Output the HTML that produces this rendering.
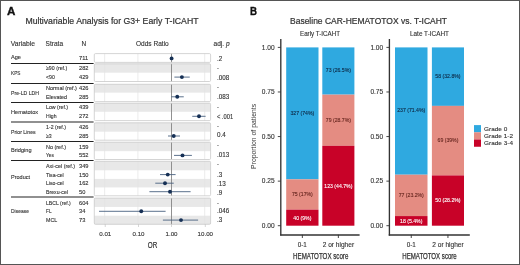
<!DOCTYPE html>
<html><head><meta charset="utf-8"><style>
html,body{margin:0;padding:0;background:#fff;}
svg{display:block;will-change:transform;}
text{font-family:"Liberation Sans", sans-serif;}
</style></head><body>
<svg width="520" height="265" viewBox="0 0 520 265">
<rect x="0" y="0" width="520" height="265" fill="#fff"/>
<text x="7.0" y="15.0" text-anchor="start" style="font-size:11.2px;fill:#111;font-weight:bold;" textLength="8.4" lengthAdjust="spacingAndGlyphs" stroke="#111" stroke-width="0.35">A</text>
<text x="25.4" y="24.3" text-anchor="start" style="font-size:8.5px;fill:#333;stroke:#333;stroke-width:0.2px;" textLength="173.1" lengthAdjust="spacingAndGlyphs" >Multivariable Analysis for G3+ Early T-ICAHT</text>
<text x="10.8" y="46" text-anchor="start" style="font-size:6.7px;fill:#333;stroke:#333;stroke-width:0.12px;" textLength="24.2" lengthAdjust="spacingAndGlyphs" >Variable</text>
<text x="45.6" y="46" text-anchor="start" style="font-size:6.7px;fill:#333;stroke:#333;stroke-width:0.12px;" textLength="17.5" lengthAdjust="spacingAndGlyphs" >Strata</text>
<text x="81.6" y="46" text-anchor="start" style="font-size:6.7px;fill:#333;stroke:#333;stroke-width:0.12px;" textLength="4.7" lengthAdjust="spacingAndGlyphs" >N</text>
<text x="136" y="46" text-anchor="start" style="font-size:6.7px;fill:#333;stroke:#333;stroke-width:0.12px;" textLength="32.75" lengthAdjust="spacingAndGlyphs" >Odds Ratio</text>
<text x="213.5" y="46" text-anchor="start" style="font-size:6.6px;fill:#333;stroke:#333;stroke-width:0.12px;" >adj.</text>
<text x="225.9" y="46" text-anchor="start" style="font-size:6.6px;fill:#333;stroke:#333;stroke-width:0.12px;font-style:italic;" >p</text>
<rect x="94.3" y="53.6" width="116.3" height="8.799999999999997" fill="#fff" />
<line x1="104.65" y1="53.6" x2="104.65" y2="62.4" stroke="#e3e3e3" stroke-width="0.7" />
<line x1="137.9" y1="53.6" x2="137.9" y2="62.4" stroke="#e3e3e3" stroke-width="0.7" />
<line x1="204.70000000000002" y1="53.6" x2="204.70000000000002" y2="62.4" stroke="#e3e3e3" stroke-width="0.7" />
<line x1="171.5" y1="53.6" x2="171.5" y2="62.4" stroke="#858585" stroke-width="0.9" />
<rect x="94.3" y="53.6" width="116.3" height="8.799999999999997" rx="1.2" fill="none" stroke="#c9c9c9" stroke-width="0.8"/>
<text x="11" y="59.3" text-anchor="start" style="font-size:5.7px;fill:#333;stroke:#333;stroke-width:0.12px;" textLength="10.0" lengthAdjust="spacingAndGlyphs" >Age</text>
<text x="79.0" y="60.3" text-anchor="start" style="font-size:5.7px;fill:#333;stroke:#333;stroke-width:0.12px;" >711</text>
<text x="216.9" y="61.05" text-anchor="start" style="font-size:6.3px;fill:#333;stroke:#333;stroke-width:0.12px;" >.2</text>
<circle cx="171.6" cy="58.4" r="1.95" fill="#163055"/>
<rect x="94.3" y="63.8" width="116.3" height="17.700000000000003" fill="#fff" />
<rect x="94.3" y="63.8" width="116.3" height="8.875" fill="#e8e8e8" />
<line x1="104.65" y1="63.8" x2="104.65" y2="81.5" stroke="#e3e3e3" stroke-width="0.7" />
<line x1="137.9" y1="63.8" x2="137.9" y2="81.5" stroke="#e3e3e3" stroke-width="0.7" />
<line x1="204.70000000000002" y1="63.8" x2="204.70000000000002" y2="81.5" stroke="#e3e3e3" stroke-width="0.7" />
<line x1="171.5" y1="63.8" x2="171.5" y2="81.5" stroke="#858585" stroke-width="0.9" />
<rect x="94.3" y="63.8" width="116.3" height="17.700000000000003" rx="1.2" fill="none" stroke="#c9c9c9" stroke-width="0.8"/>
<text x="11" y="75.1" text-anchor="start" style="font-size:5.7px;fill:#333;stroke:#333;stroke-width:0.12px;" textLength="9.4" lengthAdjust="spacingAndGlyphs" >KPS</text>
<text x="46.0" y="70.15" text-anchor="start" style="font-size:5.7px;fill:#333;stroke:#333;stroke-width:0.12px;" textLength="21.2" lengthAdjust="spacingAndGlyphs" >≥90 (ref.)</text>
<text x="79.0" y="70.15" text-anchor="start" style="font-size:5.7px;fill:#333;stroke:#333;stroke-width:0.12px;" >282</text>
<text x="216.9" y="70.0" text-anchor="start" style="font-size:5.7px;fill:#333;stroke:#333;stroke-width:0.12px;" >-</text>
<text x="46.0" y="79.0" text-anchor="start" style="font-size:5.7px;fill:#333;stroke:#333;stroke-width:0.12px;" textLength="8.8" lengthAdjust="spacingAndGlyphs" >&lt;90</text>
<text x="79.0" y="79.0" text-anchor="start" style="font-size:5.7px;fill:#333;stroke:#333;stroke-width:0.12px;" >429</text>
<text x="216.9" y="80.0" text-anchor="start" style="font-size:6.3px;fill:#333;stroke:#333;stroke-width:0.12px;" >.008</text>
<line x1="174.4" y1="77.1" x2="189.75" y2="77.1" stroke="#4a6280" stroke-width="0.9" />
<circle cx="181.9" cy="77.1" r="1.95" fill="#163055"/>
<rect x="94.3" y="84.3" width="116.3" height="17.299999999999997" fill="#fff" />
<rect x="94.3" y="84.3" width="116.3" height="8.350000000000009" fill="#e8e8e8" />
<line x1="104.65" y1="84.3" x2="104.65" y2="101.6" stroke="#e3e3e3" stroke-width="0.7" />
<line x1="137.9" y1="84.3" x2="137.9" y2="101.6" stroke="#e3e3e3" stroke-width="0.7" />
<line x1="204.70000000000002" y1="84.3" x2="204.70000000000002" y2="101.6" stroke="#e3e3e3" stroke-width="0.7" />
<line x1="171.5" y1="84.3" x2="171.5" y2="101.6" stroke="#858585" stroke-width="0.9" />
<rect x="94.3" y="84.3" width="116.3" height="17.299999999999997" rx="1.2" fill="none" stroke="#c9c9c9" stroke-width="0.8"/>
<text x="11" y="94.5" text-anchor="start" style="font-size:5.7px;fill:#333;stroke:#333;stroke-width:0.12px;" textLength="28.0" lengthAdjust="spacingAndGlyphs" >Pre-LD LDH</text>
<text x="46.0" y="90.4" text-anchor="start" style="font-size:5.7px;fill:#333;stroke:#333;stroke-width:0.12px;" textLength="30.9" lengthAdjust="spacingAndGlyphs" >Normal (ref.)</text>
<text x="79.0" y="90.4" text-anchor="start" style="font-size:5.7px;fill:#333;stroke:#333;stroke-width:0.12px;" >426</text>
<text x="216.9" y="88.89999999999999" text-anchor="start" style="font-size:5.7px;fill:#333;stroke:#333;stroke-width:0.12px;" >-</text>
<text x="46.0" y="98.7" text-anchor="start" style="font-size:5.7px;fill:#333;stroke:#333;stroke-width:0.12px;" textLength="20.9" lengthAdjust="spacingAndGlyphs" >Elevated</text>
<text x="79.0" y="98.7" text-anchor="start" style="font-size:5.7px;fill:#333;stroke:#333;stroke-width:0.12px;" >285</text>
<text x="216.9" y="99.25" text-anchor="start" style="font-size:6.3px;fill:#333;stroke:#333;stroke-width:0.12px;" >.083</text>
<line x1="171.25" y1="96.8" x2="183.75" y2="96.8" stroke="#4a6280" stroke-width="0.9" />
<circle cx="177.25" cy="96.8" r="1.95" fill="#163055"/>
<rect x="94.3" y="103.2" width="116.3" height="17.39999999999999" fill="#fff" />
<rect x="94.3" y="103.2" width="116.3" height="8.549999999999997" fill="#e8e8e8" />
<line x1="104.65" y1="103.2" x2="104.65" y2="120.6" stroke="#e3e3e3" stroke-width="0.7" />
<line x1="137.9" y1="103.2" x2="137.9" y2="120.6" stroke="#e3e3e3" stroke-width="0.7" />
<line x1="204.70000000000002" y1="103.2" x2="204.70000000000002" y2="120.6" stroke="#e3e3e3" stroke-width="0.7" />
<line x1="171.5" y1="103.2" x2="171.5" y2="120.6" stroke="#858585" stroke-width="0.9" />
<rect x="94.3" y="103.2" width="116.3" height="17.39999999999999" rx="1.2" fill="none" stroke="#c9c9c9" stroke-width="0.8"/>
<text x="11" y="113.6" text-anchor="start" style="font-size:5.7px;fill:#333;stroke:#333;stroke-width:0.12px;" textLength="27.1" lengthAdjust="spacingAndGlyphs" >Hematotox</text>
<text x="46.0" y="109.10000000000001" text-anchor="start" style="font-size:5.7px;fill:#333;stroke:#333;stroke-width:0.12px;" textLength="22.1" lengthAdjust="spacingAndGlyphs" >Low (ref.)</text>
<text x="79.0" y="109.10000000000001" text-anchor="start" style="font-size:5.7px;fill:#333;stroke:#333;stroke-width:0.12px;" >439</text>
<text x="216.9" y="109.19999999999999" text-anchor="start" style="font-size:5.7px;fill:#333;stroke:#333;stroke-width:0.12px;" >-</text>
<text x="46.0" y="118.2" text-anchor="start" style="font-size:5.7px;fill:#333;stroke:#333;stroke-width:0.12px;" textLength="10.5" lengthAdjust="spacingAndGlyphs" >High</text>
<text x="79.0" y="118.2" text-anchor="start" style="font-size:5.7px;fill:#333;stroke:#333;stroke-width:0.12px;" >272</text>
<text x="216.9" y="119.25" text-anchor="start" style="font-size:6.3px;fill:#333;stroke:#333;stroke-width:0.12px;" textLength="16.2" lengthAdjust="spacingAndGlyphs" >&lt; .001</text>
<line x1="192.25" y1="116.3" x2="205.6" y2="116.3" stroke="#4a6280" stroke-width="0.9" />
<circle cx="199" cy="116.3" r="1.95" fill="#163055"/>
<rect x="94.3" y="122.8" width="116.3" height="17.39999999999999" fill="#fff" />
<rect x="94.3" y="122.8" width="116.3" height="8.899999999999991" fill="#e8e8e8" />
<line x1="104.65" y1="122.8" x2="104.65" y2="140.2" stroke="#e3e3e3" stroke-width="0.7" />
<line x1="137.9" y1="122.8" x2="137.9" y2="140.2" stroke="#e3e3e3" stroke-width="0.7" />
<line x1="204.70000000000002" y1="122.8" x2="204.70000000000002" y2="140.2" stroke="#e3e3e3" stroke-width="0.7" />
<line x1="171.5" y1="122.8" x2="171.5" y2="140.2" stroke="#858585" stroke-width="0.9" />
<rect x="94.3" y="122.8" width="116.3" height="17.39999999999999" rx="1.2" fill="none" stroke="#c9c9c9" stroke-width="0.8"/>
<text x="11" y="133.5" text-anchor="start" style="font-size:5.7px;fill:#333;stroke:#333;stroke-width:0.12px;" textLength="24.6" lengthAdjust="spacingAndGlyphs" >Prior Lines</text>
<text x="46.0" y="129.3" text-anchor="start" style="font-size:5.7px;fill:#333;stroke:#333;stroke-width:0.12px;" textLength="20.0" lengthAdjust="spacingAndGlyphs" >1-2 (ref.)</text>
<text x="79.0" y="129.3" text-anchor="start" style="font-size:5.7px;fill:#333;stroke:#333;stroke-width:0.12px;" >426</text>
<text x="216.9" y="128.2" text-anchor="start" style="font-size:5.7px;fill:#333;stroke:#333;stroke-width:0.12px;" >-</text>
<text x="46.0" y="137.9" text-anchor="start" style="font-size:5.7px;fill:#333;stroke:#333;stroke-width:0.12px;" textLength="5.7" lengthAdjust="spacingAndGlyphs" >≥3</text>
<text x="79.0" y="137.9" text-anchor="start" style="font-size:5.7px;fill:#333;stroke:#333;stroke-width:0.12px;" >285</text>
<text x="216.9" y="136.8" text-anchor="start" style="font-size:6.3px;fill:#333;stroke:#333;stroke-width:0.12px;" >0.4</text>
<line x1="168" y1="136.0" x2="180" y2="136.0" stroke="#4a6280" stroke-width="0.9" />
<circle cx="173.75" cy="136.0" r="1.95" fill="#163055"/>
<rect x="94.3" y="142.2" width="116.3" height="17.30000000000001" fill="#fff" />
<rect x="94.3" y="142.2" width="116.3" height="9.0" fill="#e8e8e8" />
<line x1="104.65" y1="142.2" x2="104.65" y2="159.5" stroke="#e3e3e3" stroke-width="0.7" />
<line x1="137.9" y1="142.2" x2="137.9" y2="159.5" stroke="#e3e3e3" stroke-width="0.7" />
<line x1="204.70000000000002" y1="142.2" x2="204.70000000000002" y2="159.5" stroke="#e3e3e3" stroke-width="0.7" />
<line x1="171.5" y1="142.2" x2="171.5" y2="159.5" stroke="#858585" stroke-width="0.9" />
<rect x="94.3" y="142.2" width="116.3" height="17.30000000000001" rx="1.2" fill="none" stroke="#c9c9c9" stroke-width="0.8"/>
<text x="11" y="151.9" text-anchor="start" style="font-size:5.7px;fill:#333;stroke:#333;stroke-width:0.12px;" textLength="20.6" lengthAdjust="spacingAndGlyphs" >Bridging</text>
<text x="46.0" y="148.9" text-anchor="start" style="font-size:5.7px;fill:#333;stroke:#333;stroke-width:0.12px;" textLength="20.0" lengthAdjust="spacingAndGlyphs" >No (ref.)</text>
<text x="79.0" y="148.9" text-anchor="start" style="font-size:5.7px;fill:#333;stroke:#333;stroke-width:0.12px;" >159</text>
<text x="216.9" y="147.1" text-anchor="start" style="font-size:5.7px;fill:#333;stroke:#333;stroke-width:0.12px;" >-</text>
<text x="46.0" y="157.3" text-anchor="start" style="font-size:5.7px;fill:#333;stroke:#333;stroke-width:0.12px;" textLength="7.8" lengthAdjust="spacingAndGlyphs" >Yes</text>
<text x="79.0" y="157.3" text-anchor="start" style="font-size:5.7px;fill:#333;stroke:#333;stroke-width:0.12px;" >552</text>
<text x="216.9" y="156.95000000000002" text-anchor="start" style="font-size:6.3px;fill:#333;stroke:#333;stroke-width:0.12px;" >.013</text>
<line x1="174" y1="155.4" x2="191.9" y2="155.4" stroke="#4a6280" stroke-width="0.9" />
<circle cx="182.5" cy="155.4" r="1.95" fill="#163055"/>
<rect x="94.3" y="161.3" width="116.3" height="34.5" fill="#fff" />
<rect x="94.3" y="161.3" width="116.3" height="9.0" fill="#e8e8e8" />
<rect x="94.3" y="178.89999999999998" width="116.3" height="8.550000000000011" fill="#e8e8e8" />
<line x1="104.65" y1="161.3" x2="104.65" y2="195.8" stroke="#e3e3e3" stroke-width="0.7" />
<line x1="137.9" y1="161.3" x2="137.9" y2="195.8" stroke="#e3e3e3" stroke-width="0.7" />
<line x1="204.70000000000002" y1="161.3" x2="204.70000000000002" y2="195.8" stroke="#e3e3e3" stroke-width="0.7" />
<line x1="171.5" y1="161.3" x2="171.5" y2="195.8" stroke="#858585" stroke-width="0.9" />
<rect x="94.3" y="161.3" width="116.3" height="34.5" rx="1.2" fill="none" stroke="#c9c9c9" stroke-width="0.8"/>
<text x="11" y="179.4" text-anchor="start" style="font-size:5.7px;fill:#333;stroke:#333;stroke-width:0.12px;" textLength="19.0" lengthAdjust="spacingAndGlyphs" >Product</text>
<text x="46.0" y="167.9" text-anchor="start" style="font-size:5.7px;fill:#333;stroke:#333;stroke-width:0.12px;" textLength="29.0" lengthAdjust="spacingAndGlyphs" >Axi-cel (ref.)</text>
<text x="79.0" y="167.9" text-anchor="start" style="font-size:5.7px;fill:#333;stroke:#333;stroke-width:0.12px;" >349</text>
<text x="216.9" y="166.4" text-anchor="start" style="font-size:5.7px;fill:#333;stroke:#333;stroke-width:0.12px;" >-</text>
<text x="46.0" y="176.5" text-anchor="start" style="font-size:5.7px;fill:#333;stroke:#333;stroke-width:0.12px;" textLength="17.75" lengthAdjust="spacingAndGlyphs" >Tisa-cel</text>
<text x="79.0" y="176.5" text-anchor="start" style="font-size:5.7px;fill:#333;stroke:#333;stroke-width:0.12px;" >150</text>
<text x="216.9" y="177.15" text-anchor="start" style="font-size:6.3px;fill:#333;stroke:#333;stroke-width:0.12px;" >.3</text>
<line x1="160" y1="174.6" x2="175.6" y2="174.6" stroke="#4a6280" stroke-width="0.9" />
<circle cx="167.75" cy="174.6" r="1.95" fill="#163055"/>
<text x="46.0" y="185.1" text-anchor="start" style="font-size:5.7px;fill:#333;stroke:#333;stroke-width:0.12px;" textLength="17.75" lengthAdjust="spacingAndGlyphs" >Liso-cel</text>
<text x="79.0" y="185.1" text-anchor="start" style="font-size:5.7px;fill:#333;stroke:#333;stroke-width:0.12px;" >162</text>
<text x="216.9" y="186.20000000000002" text-anchor="start" style="font-size:6.3px;fill:#333;stroke:#333;stroke-width:0.12px;" >.13</text>
<line x1="155.25" y1="183.2" x2="173.75" y2="183.2" stroke="#4a6280" stroke-width="0.9" />
<circle cx="165" cy="183.2" r="1.95" fill="#163055"/>
<text x="46.0" y="193.6" text-anchor="start" style="font-size:5.7px;fill:#333;stroke:#333;stroke-width:0.12px;" textLength="22.0" lengthAdjust="spacingAndGlyphs" >Brexu-cel</text>
<text x="79.0" y="193.6" text-anchor="start" style="font-size:5.7px;fill:#333;stroke:#333;stroke-width:0.12px;" >50</text>
<text x="216.9" y="194.5" text-anchor="start" style="font-size:6.3px;fill:#333;stroke:#333;stroke-width:0.12px;" >.9</text>
<line x1="149.4" y1="191.7" x2="190.6" y2="191.7" stroke="#4a6280" stroke-width="0.9" />
<circle cx="170" cy="191.7" r="1.95" fill="#163055"/>
<rect x="94.3" y="198.1" width="116.3" height="26.200000000000017" fill="#fff" />
<rect x="94.3" y="198.1" width="116.3" height="8.849999999999994" fill="#e8e8e8" />
<rect x="94.3" y="215.7" width="116.3" height="8.600000000000023" fill="#e8e8e8" />
<line x1="104.65" y1="198.1" x2="104.65" y2="224.3" stroke="#e3e3e3" stroke-width="0.7" />
<line x1="137.9" y1="198.1" x2="137.9" y2="224.3" stroke="#e3e3e3" stroke-width="0.7" />
<line x1="204.70000000000002" y1="198.1" x2="204.70000000000002" y2="224.3" stroke="#e3e3e3" stroke-width="0.7" />
<line x1="171.5" y1="198.1" x2="171.5" y2="224.3" stroke="#858585" stroke-width="0.9" />
<rect x="94.3" y="198.1" width="116.3" height="26.200000000000017" rx="1.2" fill="none" stroke="#c9c9c9" stroke-width="0.8"/>
<text x="11" y="213.25" text-anchor="start" style="font-size:5.7px;fill:#333;stroke:#333;stroke-width:0.12px;" textLength="18.0" lengthAdjust="spacingAndGlyphs" >Disease</text>
<text x="46.0" y="204.5" text-anchor="start" style="font-size:5.7px;fill:#333;stroke:#333;stroke-width:0.12px;" textLength="24.8" lengthAdjust="spacingAndGlyphs" >LBCL (ref.)</text>
<text x="79.0" y="204.5" text-anchor="start" style="font-size:5.7px;fill:#333;stroke:#333;stroke-width:0.12px;" >604</text>
<text x="216.9" y="204.7" text-anchor="start" style="font-size:5.7px;fill:#333;stroke:#333;stroke-width:0.12px;" >-</text>
<text x="46.0" y="213.20000000000002" text-anchor="start" style="font-size:5.7px;fill:#333;stroke:#333;stroke-width:0.12px;" textLength="5.5" lengthAdjust="spacingAndGlyphs" >FL</text>
<text x="79.0" y="213.20000000000002" text-anchor="start" style="font-size:5.7px;fill:#333;stroke:#333;stroke-width:0.12px;" >34</text>
<text x="216.9" y="212.95000000000002" text-anchor="start" style="font-size:6.3px;fill:#333;stroke:#333;stroke-width:0.12px;" >.046</text>
<line x1="99" y1="211.3" x2="165.6" y2="211.3" stroke="#4a6280" stroke-width="0.9" />
<circle cx="141.25" cy="211.3" r="1.95" fill="#163055"/>
<text x="46.0" y="222.0" text-anchor="start" style="font-size:5.7px;fill:#333;stroke:#333;stroke-width:0.12px;" textLength="11.3" lengthAdjust="spacingAndGlyphs" >MCL</text>
<text x="79.0" y="222.0" text-anchor="start" style="font-size:5.7px;fill:#333;stroke:#333;stroke-width:0.12px;" >73</text>
<text x="216.9" y="222.05" text-anchor="start" style="font-size:6.3px;fill:#333;stroke:#333;stroke-width:0.12px;" >.3</text>
<line x1="162.9" y1="220.1" x2="198.1" y2="220.1" stroke="#4a6280" stroke-width="0.9" />
<circle cx="181" cy="220.1" r="1.95" fill="#163055"/>
<line x1="11" y1="63.5" x2="93.6" y2="63.5" stroke="#222" stroke-width="1.2" />
<line x1="11" y1="83.5" x2="93.6" y2="83.5" stroke="#222" stroke-width="1.2" />
<line x1="11" y1="102.5" x2="93.6" y2="102.5" stroke="#222" stroke-width="1.2" />
<line x1="11" y1="122.0" x2="93.6" y2="122.0" stroke="#222" stroke-width="1.2" />
<line x1="11" y1="141.5" x2="93.6" y2="141.5" stroke="#222" stroke-width="1.2" />
<line x1="11" y1="160.5" x2="93.6" y2="160.5" stroke="#222" stroke-width="1.2" />
<line x1="11" y1="197.0" x2="93.6" y2="197.0" stroke="#222" stroke-width="1.2" />
<line x1="105.25" y1="224.3" x2="105.25" y2="227" stroke="#bbb" stroke-width="0.6" />
<text x="105.25" y="235.6" text-anchor="middle" style="font-size:6.2px;fill:#333;stroke:#333;stroke-width:0.12px;" >0.01</text>
<line x1="138.5" y1="224.3" x2="138.5" y2="227" stroke="#bbb" stroke-width="0.6" />
<text x="138.5" y="235.6" text-anchor="middle" style="font-size:6.2px;fill:#333;stroke:#333;stroke-width:0.12px;" >0.10</text>
<line x1="171.5" y1="224.3" x2="171.5" y2="227" stroke="#bbb" stroke-width="0.6" />
<text x="171.5" y="235.6" text-anchor="middle" style="font-size:6.2px;fill:#333;stroke:#333;stroke-width:0.12px;" >1.00</text>
<line x1="205.3" y1="224.3" x2="205.3" y2="227" stroke="#bbb" stroke-width="0.6" />
<text x="205.3" y="235.6" text-anchor="middle" style="font-size:6.2px;fill:#333;stroke:#333;stroke-width:0.12px;" >10.00</text>
<text x="152.5" y="247.7" text-anchor="middle" style="font-size:8.4px;fill:#333;stroke:#333;stroke-width:0.2px;" textLength="9.5" lengthAdjust="spacingAndGlyphs" >OR</text>
<text x="250.1" y="15.0" text-anchor="start" style="font-size:11.2px;fill:#111;font-weight:bold;" textLength="7.0" lengthAdjust="spacingAndGlyphs" stroke="#111" stroke-width="0.35">B</text>
<text x="290" y="24.4" text-anchor="start" style="font-size:8.4px;fill:#333;stroke:#333;stroke-width:0.2px;" textLength="157" lengthAdjust="spacingAndGlyphs" >Baseline CAR-HEMATOTOX vs. T-ICAHT</text>
<text x="320" y="36.0" text-anchor="middle" style="font-size:6.6px;fill:#333;stroke:#333;stroke-width:0.12px;" textLength="40" lengthAdjust="spacingAndGlyphs" >Early T-ICAHT</text>
<text x="429.5" y="36.0" text-anchor="middle" style="font-size:6.6px;fill:#333;stroke:#333;stroke-width:0.12px;" textLength="39" lengthAdjust="spacingAndGlyphs" >Late T-ICAHT</text>
<line x1="280.8" y1="39" x2="280.8" y2="235.6" stroke="#333" stroke-width="1.35" />
<line x1="280.15000000000003" y1="234.95" x2="359.6" y2="234.95" stroke="#333" stroke-width="1.35" />
<line x1="277.8" y1="47.400000000000006" x2="280.8" y2="47.400000000000006" stroke="#333" stroke-width="0.9" />
<text x="274.6" y="49.7" text-anchor="end" style="font-size:6.4px;fill:#333;stroke:#333;stroke-width:0.12px;" textLength="12.8" lengthAdjust="spacingAndGlyphs" >1.00</text>
<line x1="277.8" y1="91.975" x2="280.8" y2="91.975" stroke="#333" stroke-width="0.9" />
<text x="274.6" y="94.27499999999999" text-anchor="end" style="font-size:6.4px;fill:#333;stroke:#333;stroke-width:0.12px;" textLength="12.8" lengthAdjust="spacingAndGlyphs" >0.75</text>
<line x1="277.8" y1="136.55" x2="280.8" y2="136.55" stroke="#333" stroke-width="0.9" />
<text x="274.6" y="138.85000000000002" text-anchor="end" style="font-size:6.4px;fill:#333;stroke:#333;stroke-width:0.12px;" textLength="12.8" lengthAdjust="spacingAndGlyphs" >0.50</text>
<line x1="277.8" y1="181.125" x2="280.8" y2="181.125" stroke="#333" stroke-width="0.9" />
<text x="274.6" y="183.425" text-anchor="end" style="font-size:6.4px;fill:#333;stroke:#333;stroke-width:0.12px;" textLength="12.8" lengthAdjust="spacingAndGlyphs" >0.25</text>
<line x1="277.8" y1="225.7" x2="280.8" y2="225.7" stroke="#333" stroke-width="0.9" />
<text x="274.6" y="228.0" text-anchor="end" style="font-size:6.4px;fill:#333;stroke:#333;stroke-width:0.12px;" textLength="12.8" lengthAdjust="spacingAndGlyphs" >0.00</text>
<line x1="302.35" y1="234.75" x2="302.35" y2="238" stroke="#333" stroke-width="0.9" />
<rect x="286.2" y="47.400000000000006" width="32.30000000000001" height="131.94199999999998" fill="#2fa9e0" />
<text transform="translate(302.35,115.071) scale(0.86,1)" text-anchor="middle" style="font-size:6.0px;fill:#0d2844;stroke:#0d2844;stroke-width:0.12px;" >327 (74%)</text>
<rect x="286.2" y="179.34199999999998" width="32.30000000000001" height="30.311000000000007" fill="#e48c82" />
<text transform="translate(302.35,196.1975) scale(0.86,1)" text-anchor="middle" style="font-size:6.0px;fill:#66261f;stroke:#66261f;stroke-width:0.12px;" >75 (17%)</text>
<rect x="286.2" y="209.653" width="32.30000000000001" height="16.046999999999997" fill="#c80228" />
<text transform="translate(302.35,219.9765) scale(0.86,1)" text-anchor="middle" style="font-size:6.0px;fill:#fff;stroke:#fff;stroke-width:0.12px;" >40 (9%)</text>
<line x1="338.35" y1="234.75" x2="338.35" y2="238" stroke="#333" stroke-width="0.9" />
<rect x="322.3" y="47.400000000000006" width="32.099999999999966" height="47.24950000000001" fill="#2fa9e0" />
<text transform="translate(338.35,71.72475000000001) scale(0.86,1)" text-anchor="middle" style="font-size:6.0px;fill:#0d2844;stroke:#0d2844;stroke-width:0.12px;" >73 (26.5%)</text>
<rect x="322.3" y="94.64950000000002" width="32.099999999999966" height="51.17209999999997" fill="#e48c82" />
<text transform="translate(338.35,121.93555) scale(0.86,1)" text-anchor="middle" style="font-size:6.0px;fill:#66261f;stroke:#66261f;stroke-width:0.12px;" >79 (28.7%)</text>
<rect x="322.3" y="145.8216" width="32.099999999999966" height="79.8784" fill="#c80228" />
<text transform="translate(338.35,188.3608) scale(0.86,1)" text-anchor="middle" style="font-size:6.0px;fill:#fff;stroke:#fff;stroke-width:0.12px;" >123 (44.7%)</text>
<line x1="389.4" y1="39" x2="389.4" y2="235.6" stroke="#333" stroke-width="1.35" />
<line x1="388.75" y1="234.95" x2="469.8" y2="234.95" stroke="#333" stroke-width="1.35" />
<line x1="386.4" y1="47.400000000000006" x2="389.4" y2="47.400000000000006" stroke="#333" stroke-width="0.9" />
<text x="383.2" y="49.7" text-anchor="end" style="font-size:6.4px;fill:#333;stroke:#333;stroke-width:0.12px;" textLength="12.8" lengthAdjust="spacingAndGlyphs" >1.00</text>
<line x1="386.4" y1="91.975" x2="389.4" y2="91.975" stroke="#333" stroke-width="0.9" />
<text x="383.2" y="94.27499999999999" text-anchor="end" style="font-size:6.4px;fill:#333;stroke:#333;stroke-width:0.12px;" textLength="12.8" lengthAdjust="spacingAndGlyphs" >0.75</text>
<line x1="386.4" y1="136.55" x2="389.4" y2="136.55" stroke="#333" stroke-width="0.9" />
<text x="383.2" y="138.85000000000002" text-anchor="end" style="font-size:6.4px;fill:#333;stroke:#333;stroke-width:0.12px;" textLength="12.8" lengthAdjust="spacingAndGlyphs" >0.50</text>
<line x1="386.4" y1="181.125" x2="389.4" y2="181.125" stroke="#333" stroke-width="0.9" />
<text x="383.2" y="183.425" text-anchor="end" style="font-size:6.4px;fill:#333;stroke:#333;stroke-width:0.12px;" textLength="12.8" lengthAdjust="spacingAndGlyphs" >0.25</text>
<line x1="386.4" y1="225.7" x2="389.4" y2="225.7" stroke="#333" stroke-width="0.9" />
<text x="383.2" y="228.0" text-anchor="end" style="font-size:6.4px;fill:#333;stroke:#333;stroke-width:0.12px;" textLength="12.8" lengthAdjust="spacingAndGlyphs" >0.00</text>
<line x1="411.25" y1="234.75" x2="411.25" y2="238" stroke="#333" stroke-width="0.9" />
<rect x="395" y="47.400000000000006" width="32.5" height="127.30619999999999" fill="#2fa9e0" />
<text transform="translate(411.25,112.15310000000001) scale(0.86,1)" text-anchor="middle" style="font-size:6.0px;fill:#0d2844;stroke:#0d2844;stroke-width:0.12px;" >237 (71.4%)</text>
<rect x="395" y="174.7062" width="32.5" height="41.3656" fill="#e48c82" />
<text transform="translate(411.25,197.089) scale(0.86,1)" text-anchor="middle" style="font-size:6.0px;fill:#66261f;stroke:#66261f;stroke-width:0.12px;" >77 (23.2%)</text>
<rect x="395" y="216.0718" width="32.5" height="9.628199999999993" fill="#c80228" />
<text transform="translate(411.25,223.1859) scale(0.86,1)" text-anchor="middle" style="font-size:6.0px;fill:#fff;stroke:#fff;stroke-width:0.12px;" >18 (5.4%)</text>
<line x1="447.95" y1="234.75" x2="447.95" y2="238" stroke="#333" stroke-width="0.9" />
<rect x="431.9" y="47.400000000000006" width="32.10000000000002" height="58.48240000000001" fill="#2fa9e0" />
<text transform="translate(447.95,78.04120000000002) scale(0.86,1)" text-anchor="middle" style="font-size:6.0px;fill:#0d2844;stroke:#0d2844;stroke-width:0.12px;" >58 (32.8%)</text>
<rect x="431.9" y="105.88240000000002" width="32.10000000000002" height="69.53699999999998" fill="#e48c82" />
<text transform="translate(447.95,142.3509) scale(0.86,1)" text-anchor="middle" style="font-size:6.0px;fill:#66261f;stroke:#66261f;stroke-width:0.12px;" >69 (39%)</text>
<rect x="431.9" y="175.4194" width="32.10000000000002" height="50.28059999999999" fill="#c80228" />
<text transform="translate(447.95,202.2597) scale(0.86,1)" text-anchor="middle" style="font-size:6.0px;fill:#fff;stroke:#fff;stroke-width:0.12px;" >50 (28.2%)</text>
<text x="302.3" y="246.6" text-anchor="middle" style="font-size:6.3px;fill:#333;stroke:#333;stroke-width:0.12px;" >0-1</text>
<text x="338.4" y="246.6" text-anchor="middle" style="font-size:6.3px;fill:#333;stroke:#333;stroke-width:0.12px;" textLength="31.4" lengthAdjust="spacingAndGlyphs" >2 or higher</text>
<text x="411.3" y="246.6" text-anchor="middle" style="font-size:6.3px;fill:#333;stroke:#333;stroke-width:0.12px;" >0-1</text>
<text x="448" y="246.6" text-anchor="middle" style="font-size:6.3px;fill:#333;stroke:#333;stroke-width:0.12px;" textLength="31.4" lengthAdjust="spacingAndGlyphs" >2 or higher</text>
<text x="320.7" y="258.9" text-anchor="middle" style="font-size:8.4px;fill:#333;stroke:#333;stroke-width:0.25px;" textLength="55.3" lengthAdjust="spacingAndGlyphs" >HEMATOTOX score</text>
<text x="429.5" y="258.9" text-anchor="middle" style="font-size:8.4px;fill:#333;stroke:#333;stroke-width:0.25px;" textLength="54.5" lengthAdjust="spacingAndGlyphs" >HEMATOTOX score</text>
<text transform="translate(256.1,136.4) rotate(-90)" text-anchor="middle" style="font-size:6.6px;fill:#333;" textLength="65" lengthAdjust="spacingAndGlyphs">Proportion of patients</text>
<rect x="474" y="125.1" width="7" height="7.25" fill="#2fa9e0" />
<text x="484.1" y="130.5" text-anchor="start" style="font-size:6.2px;fill:#333;stroke:#333;stroke-width:0.12px;" textLength="23.2" lengthAdjust="spacingAndGlyphs" >Grade 0</text>
<rect x="474" y="132.29999999999998" width="7" height="7.25" fill="#e48c82" />
<text x="484.1" y="137.85" text-anchor="start" style="font-size:6.2px;fill:#333;stroke:#333;stroke-width:0.12px;" textLength="28.9" lengthAdjust="spacingAndGlyphs" >Grade 1-2</text>
<rect x="474" y="139.5" width="7" height="7.25" fill="#c80228" />
<text x="484.1" y="145.2" text-anchor="start" style="font-size:6.2px;fill:#333;stroke:#333;stroke-width:0.12px;" textLength="28.9" lengthAdjust="spacingAndGlyphs" >Grade 3-4</text>
<rect x="0.5" y="0.5" width="519" height="264" fill="none" stroke="#555" stroke-width="1"/>
</svg>
</body></html>
